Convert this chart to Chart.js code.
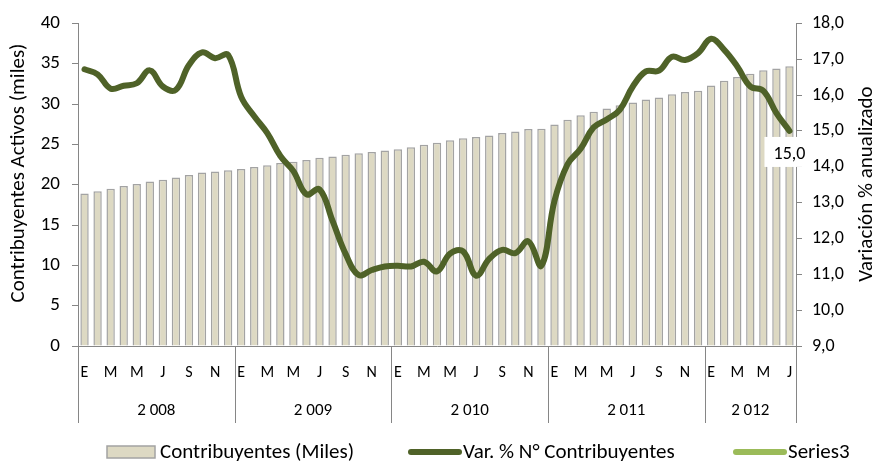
<!DOCTYPE html>
<html>
<head>
<meta charset="utf-8">
<script src="https://cdn.jsdelivr.net/npm/chart.js@4.4.1/dist/chart.umd.min.js"></script>
<style>
  html, body { margin: 0; padding: 0; background: #fff; }
  #wrap { width: 882px; height: 462px; }
</style>
</head>
<body>
<div id="wrap"><canvas id="chart" width="882" height="462"></canvas></div>
<script>
// months Jan 2008 .. Jul 2012 (spanish initials)
const months = [
  'E','F','M','A','M','J','J','A','S','O','N','D',
  'E','F','M','A','M','J','J','A','S','O','N','D',
  'E','F','M','A','M','J','J','A','S','O','N','D',
  'E','F','M','A','M','J','J','A','S','O','N','D',
  'E','F','M','A','M','J','J'
];
const years = ['2 008', '2 009', '2 010', '2 011', '2 012'];
const monthsPerYear = [12, 12, 12, 12, 7];

// thousands of active taxpayers
const contribuyentes = [
  18.9, 19.2, 19.5, 19.85, 20.1, 20.4, 20.6, 20.9, 21.2, 21.5, 21.65, 21.8,
  21.95, 22.2, 22.4, 22.7, 22.85, 23.05, 23.35, 23.5, 23.7, 23.9, 24.05, 24.25,
  24.4, 24.65, 24.95, 25.2, 25.5, 25.75, 25.9, 26.1, 26.4, 26.6, 26.9, 26.95,
  27.45, 28.05, 28.6, 29.05, 29.45, 29.85, 30.2, 30.55, 30.8, 31.2, 31.5, 31.65,
  32.3, 32.9, 33.35, 33.75, 34.2, 34.4, 34.7
];
// annualised % change
const variacion = [
  16.72, 16.58, 16.18, 16.26, 16.33, 16.69, 16.24, 16.15, 16.84, 17.19, 17.03, 17.12,
  15.95, 15.41, 14.94, 14.30, 13.88, 13.23, 13.37, 12.49, 11.57, 10.98, 11.12, 11.22,
  11.24, 11.22, 11.35, 11.08, 11.58, 11.64, 10.96, 11.43, 11.68, 11.59, 11.92, 11.24,
  13.05, 14.07, 14.5, 15.1, 15.32, 15.59, 16.24, 16.66, 16.68, 17.07, 16.98, 17.17,
  17.57, 17.26, 16.80, 16.24, 16.12, 15.50, 15.0
];
const series3 = [];

const FONT = 'Carlito, Lato, "Liberation Sans", sans-serif';
const AXIS_GREY = '#868686';
const fmt = v => v.toFixed(1).replace('.', ',');

// years row, separators, axis titles, last value label, legend
const extras = {
  id: 'extras',
  afterDraw(chart) {
    const ctx = chart.ctx;
    const x = chart.scales.x;
    const area = chart.chartArea;
    const half = (x.getPixelForValue(1) - x.getPixelForValue(0)) / 2;
    ctx.save();

    // year separators + labels
    ctx.strokeStyle = AXIS_GREY;
    ctx.lineWidth = 1;
    ctx.fillStyle = '#000';
    ctx.font = '17px ' + FONT;
    ctx.textAlign = 'center';
    ctx.textBaseline = 'middle';
    let start = 0;
    const edge = i => x.getPixelForValue(i) - half;
    for (let k = 0; k < years.length; k++) {
      const end = start + monthsPerYear[k];
      const x0 = Math.round(edge(start)) + 0.5;
      ctx.beginPath();
      ctx.moveTo(x0, area.bottom);
      ctx.lineTo(x0, 423);
      ctx.stroke();
      ctx.fillText(years[k], (edge(start) + edge(end)) / 2, 411);
      start = end;
    }
    const xe = Math.round(edge(start)) + 0.5;
    ctx.beginPath();
    ctx.moveTo(xe, area.bottom);
    ctx.lineTo(xe, 423);
    ctx.stroke();

    // axis titles
    ctx.font = '21px ' + FONT;
    ctx.save();
    ctx.translate(19, 173);
    ctx.rotate(-Math.PI / 2);
    ctx.fillText('Contribuyentes Activos (miles)', 0, 0);
    ctx.restore();
    ctx.save();
    ctx.translate(867, 184);
    ctx.rotate(-Math.PI / 2);
    ctx.fillText('Variación % anualizado', 0, 0);
    ctx.restore();

    // label on last point of the line
    const meta = chart.getDatasetMeta(1);
    const last = meta.data[meta.data.length - 1];
    const lx = last.x, ly = last.y + 24;
    ctx.font = '18px ' + FONT;
    ctx.fillStyle = '#fff';
    ctx.fillRect(lx - 25, ly - 18, 45, 30);
    ctx.fillStyle = '#000';
    ctx.fillText(fmt(variacion[variacion.length - 1]), lx, ly);

    // legend
    const ds = chart.data.datasets;
    const legX = [107, 408, 733];
    const legY = 452;
    ctx.font = '21px ' + FONT;
    ctx.textAlign = 'left';
    ds.forEach((d, i) => {
      const x0 = legX[i];
      let tx;
      if (d.type === 'bar') {
        ctx.fillStyle = d.backgroundColor;
        ctx.fillRect(x0, legY - 6, 48, 12);
        ctx.strokeStyle = d.borderColor;
        ctx.lineWidth = 1.5;
        ctx.strokeRect(x0, legY - 6, 48, 12);
        tx = x0 + 53;
      } else {
        ctx.strokeStyle = d.borderColor;
        ctx.lineWidth = 6;
        ctx.lineCap = 'round';
        ctx.beginPath();
        ctx.moveTo(x0 + 3, legY);
        ctx.lineTo(x0 + 51, legY);
        ctx.stroke();
        tx = x0 + 55;
      }
      ctx.fillStyle = '#000';
      ctx.fillText(d.label, tx, legY + 1);
    });
    ctx.restore();
  }
};

new Chart(document.getElementById('chart'), {
  data: {
    labels: months,
    datasets: [
      {
        type: 'bar',
        label: 'Contribuyentes (Miles)',
        data: contribuyentes,
        yAxisID: 'y',
        backgroundColor: '#ddd9c3',
        borderColor: '#a3a3a3',
        borderWidth: 1.5,
        barPercentage: 0.64,
        categoryPercentage: 1,
        order: 2
      },
      {
        type: 'line',
        label: 'Var. % N° Contribuyentes',
        data: variacion,
        yAxisID: 'y1',
        borderColor: '#4f6228',
        borderWidth: 6,
        pointRadius: 0,
        tension: 0.4,
        borderCapStyle: 'round',
        order: 1
      },
      {
        type: 'line',
        label: 'Series3',
        data: series3,
        yAxisID: 'y1',
        borderColor: '#9bbb59',
        borderWidth: 6,
        pointRadius: 0
      }
    ]
  },
  options: {
    responsive: false,
    animation: false,
    layout: { padding: { top: 21, left: 0, right: 0, bottom: 0 } },
    plugins: {
      legend: { display: false },
      tooltip: { enabled: false }
    },
    scales: {
      x: {
        offset: true,
        grid: { display: false, drawTicks: false },
        border: { color: AXIS_GREY },
        ticks: {
          autoSkip: false,
          maxRotation: 0,
          padding: 17,
          color: '#000',
          font: { family: FONT, size: 16 },
          callback: (v, i) => (i % 2 === 0 ? months[i] : '')
        },
        afterFit: s => { s.height = 116; }
      },
      y: {
        position: 'left',
        min: 0,
        max: 40,
        grid: { drawOnChartArea: false, color: AXIS_GREY, tickLength: 6 },
        border: { color: AXIS_GREY },
        ticks: { stepSize: 5, padding: 12, color: '#000', font: { family: FONT, size: 19 } },
        afterFit: s => { s.width = 78; }
      },
      y1: {
        position: 'right',
        min: 9,
        max: 18,
        grid: { drawOnChartArea: false, color: AXIS_GREY, tickLength: 6 },
        border: { color: AXIS_GREY },
        ticks: {
          stepSize: 1,
          padding: 10,
          color: '#000',
          font: { family: FONT, size: 18 },
          callback: v => fmt(v)
        },
        afterFit: s => { s.width = 86; }
      }
    }
  },
  plugins: [extras]
});
</script>
</body>
</html>
